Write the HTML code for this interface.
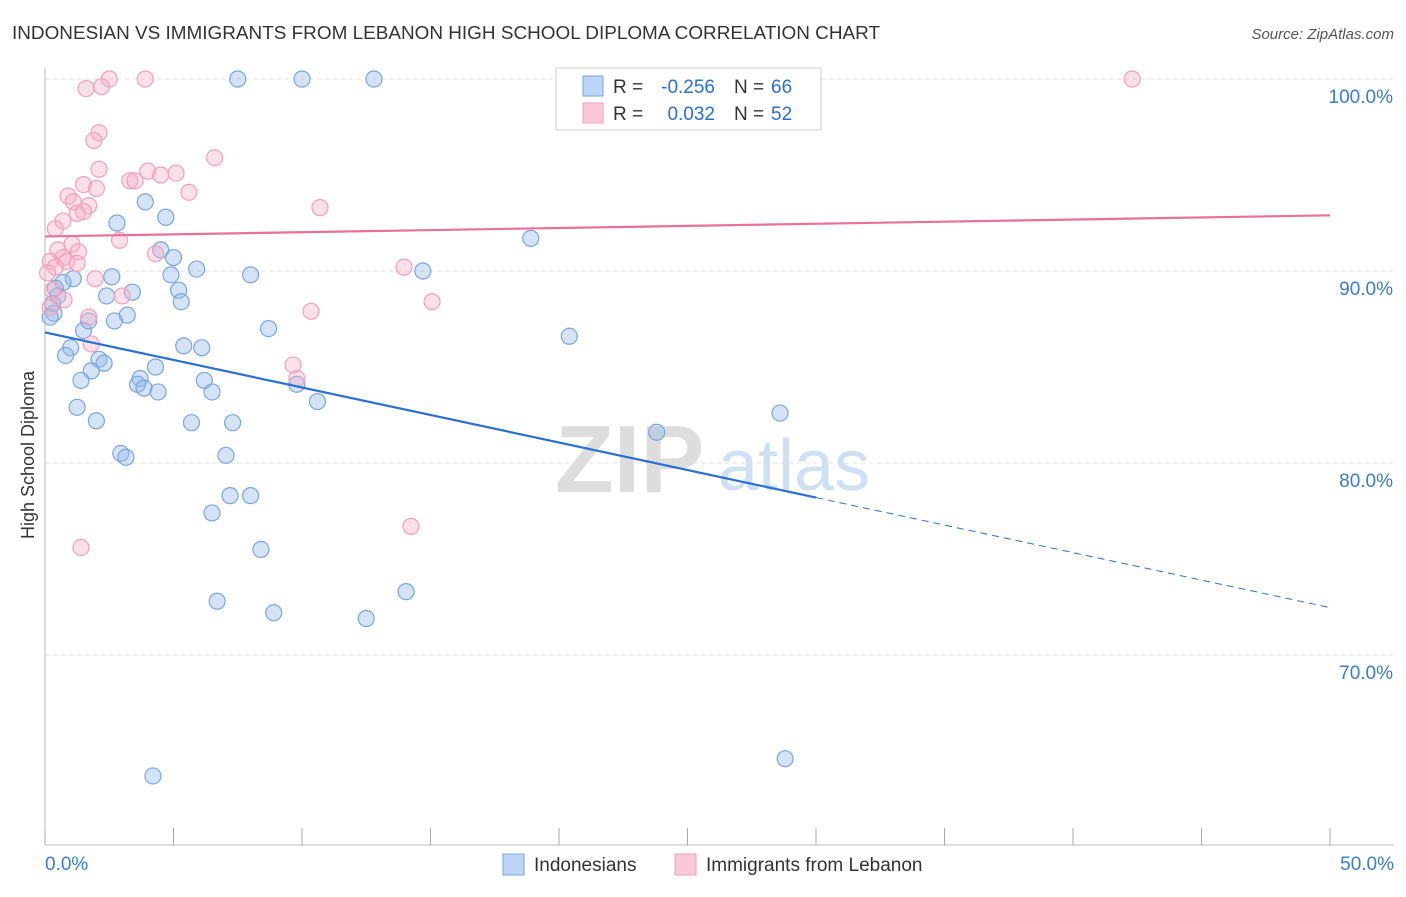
<!DOCTYPE html>
<html><head><meta charset="utf-8">
<style>
body{margin:0;background:#fff;font-family:"Liberation Sans",sans-serif;}
svg text{font-family:"Liberation Sans",sans-serif;}
</style></head>
<body>
<svg id="chart" width="1406" height="892" viewBox="0 0 1406 892" xmlns="http://www.w3.org/2000/svg">
<text x="12" y="39" font-size="18" fill="#333" textLength="868" lengthAdjust="spacingAndGlyphs">INDONESIAN VS IMMIGRANTS FROM LEBANON HIGH SCHOOL DIPLOMA CORRELATION CHART</text>
<text x="1394" y="39" font-size="15" fill="#555" text-anchor="end" font-style="italic">Source: ZipAtlas.com</text>
<text x="34" y="455" font-size="18" fill="#333" text-anchor="middle" transform="rotate(-90 34 455)">High School Diploma</text>
<g id="grid"></g>
<text x="555" y="492" font-size="96" fill="#ddd" font-family="Liberation Serif" font-weight="bold">ZIP</text>
<text x="718" y="490" font-size="72" fill="#cfe0f3">atlas</text>
<g id="pts"></g>
<g id="lines"></g>
<g>
<rect x="556" y="68" width="265" height="62" fill="#fff" stroke="#ccc"/>
<rect x="583" y="76" width="20" height="20" fill="#bcd4f5" stroke="#7aa6e0"/>
<text x="613" y="93" font-size="19" fill="#333">R =</text>
<text x="715" y="93" font-size="19" fill="#2a6fd6" text-anchor="end">-0.256</text>
<text x="734" y="93" font-size="19" fill="#333">N =</text>
<text x="771" y="93" font-size="19" fill="#2a6fd6">66</text>
<rect x="583" y="103" width="20" height="20" fill="#f8c8d8" stroke="#f0a0bb"/>
<text x="613" y="120" font-size="19" fill="#333">R =</text>
<text x="715" y="120" font-size="19" fill="#2a6fd6" text-anchor="end">0.032</text>
<text x="734" y="120" font-size="19" fill="#333">N =</text>
<text x="771" y="120" font-size="19" fill="#2a6fd6">52</text>
</g>
<g>
<rect x="503" y="854" width="21" height="21" fill="#bcd4f5" stroke="#7aa6e0"/>
<text x="534" y="871" font-size="19" fill="#333">Indonesians</text>
<rect x="675" y="854" width="21" height="21" fill="#f8c8d8" stroke="#f0a0bb"/>
<text x="706" y="871" font-size="19" fill="#333">Immigrants from Lebanon</text>
</g>
</svg>
<script>
const xTicks=[0,5,10,15,20,25,30,35,40,45,50];
const yTicks=[70,80,90,100];
const blueX=[7.5,10,12.8,3.9,4.7,2.8,18.9,4.5,5,5.9,8,14.7,4.9,2.6,1.1,0.7,5.2,0.4,2.4,3.4,0.5,0.3,3.2,2.7,0.35,0.2,5.3,8.7,1.5,1.7,20.4,1,5.4,6.1,0.8,2.1,2.3,4.3,1.8,1.4,3.7,3.6,6.2,3.85,9.8,4.4,6.5,10.6,1.25,2,5.7,7.3,23.8,28.6,2.95,3.15,7.04,7.2,8,6.5,8.4,14.05,6.7,8.9,12.5,28.8,4.2];
const blueY=[100,100,100,93.6,92.8,92.5,91.7,91.1,90.7,90.1,89.8,90,89.8,89.7,89.6,89.4,89,89.1,88.7,88.9,88.7,88.3,87.7,87.4,87.8,87.6,88.4,87,86.9,87.4,86.6,86,86.1,86,85.6,85.4,85.2,85,84.8,84.3,84.4,84.1,84.3,83.9,84.1,83.7,83.7,83.2,82.9,82.2,82.1,82.1,81.6,82.6,80.5,80.3,80.4,78.3,78.3,77.4,75.5,73.3,72.8,72.2,71.9,64.6,63.7];
const pinkX=[2.5,3.9,42.3,1.6,2.2,2.1,1.9,6.6,2.1,4,5.1,4.5,1.5,2,3.3,3.5,5.6,0.9,1.1,1.7,10.7,1.25,1.5,0.7,0.4,2.9,1.05,0.5,1.3,4.3,0.7,0.2,0.85,0.4,1.25,13.97,1.95,0.1,15.06,3,0.3,10.35,1.7,1.8,9.65,9.8,14.24,1.4,0.2,0.74];
const pinkY=[100,100,100,99.5,99.6,97.2,96.8,95.9,95.3,95.2,95.1,95,94.5,94.3,94.7,94.7,94.1,93.9,93.6,93.4,93.3,93,93.1,92.6,92.2,91.6,91.4,91.1,91,90.9,90.7,90.5,90.5,90.2,90.4,90.2,89.6,89.9,88.4,88.7,89,87.9,87.6,86.2,85.1,84.4,76.7,75.6,88.1,88.5];
const blueLine=[86.8,78.2];
const pinkLine=[91.8,92.9];
const fx=v=>45+v*25.7, fy=v=>79+(100-v)*19.2;
const NS="http://www.w3.org/2000/svg";
const mk=(t,a,p)=>{const e=document.createElementNS(NS,t);for(const k in a)e.setAttribute(k,a[k]);p.appendChild(e);return e;};
const grid=document.getElementById('grid');
mk('line',{x1:45,y1:68,x2:45,y2:845,stroke:'#bbb'},grid);
mk('line',{x1:45,y1:845,x2:1394,y2:845,stroke:'#bbb'},grid);
yTicks.forEach(t=>{
 const g=mk('line',{x1:45,y1:fy(t),x2:1394,y2:fy(t),stroke:'#ddd','stroke-dasharray':'4,4'},grid);
 
 
 const l=mk('text',{x:1393,y:fy(t)+24,'font-size':19,fill:'#3a7bd5','text-anchor':'end'},grid);
 l.textContent=t.toFixed(1)+'%';
 
 
});
xTicks.forEach(t=>{
 const g=mk('line',{x1:fx(t),y1:828,x2:fx(t),y2:845,stroke:'#aaa'},grid);
 
 
});
[[0,'start',45],[50,'end',1394]].forEach(([t,a,x])=>{
 const l=mk('text',{x:x,y:870,'font-size':19,fill:'#3a7bd5','text-anchor':a},grid);
 l.textContent=t.toFixed(1)+'%';
 
 
});
const pts=document.getElementById('pts');
const draw=(xs,ys,fill,stroke,name)=>xs.forEach((x,i)=>{
 const c=mk('circle',{cx:fx(x),cy:fy(ys[i]),r:8,fill:fill,stroke:stroke,'stroke-width':1.2},pts);
 
 
});
draw(blueX,blueY,'rgba(150,185,235,0.4)','#7aa6e0','point-indonesians');
draw(pinkX,pinkY,'rgba(245,175,200,0.4)','#f0a0bb','point-lebanon');
const lines=document.getElementById('lines');
const slope=(blueLine[1]-blueLine[0])/30;
let b=mk('line',{x1:fx(0),y1:fy(blueLine[0]),x2:fx(30),y2:fy(blueLine[1]),stroke:'#2a6fd6','stroke-width':2.2},lines);


b=mk('line',{x1:fx(30),y1:fy(blueLine[1]),x2:fx(50),y2:fy(blueLine[1]+slope*20),stroke:'#2a6fd6','stroke-width':1,'stroke-dasharray':'7,5'},lines);


b=mk('line',{x1:fx(0),y1:fy(pinkLine[0]),x2:fx(50),y2:fy(pinkLine[1]),stroke:'#e8719a','stroke-width':2.2},lines);


</script>
</body></html>
